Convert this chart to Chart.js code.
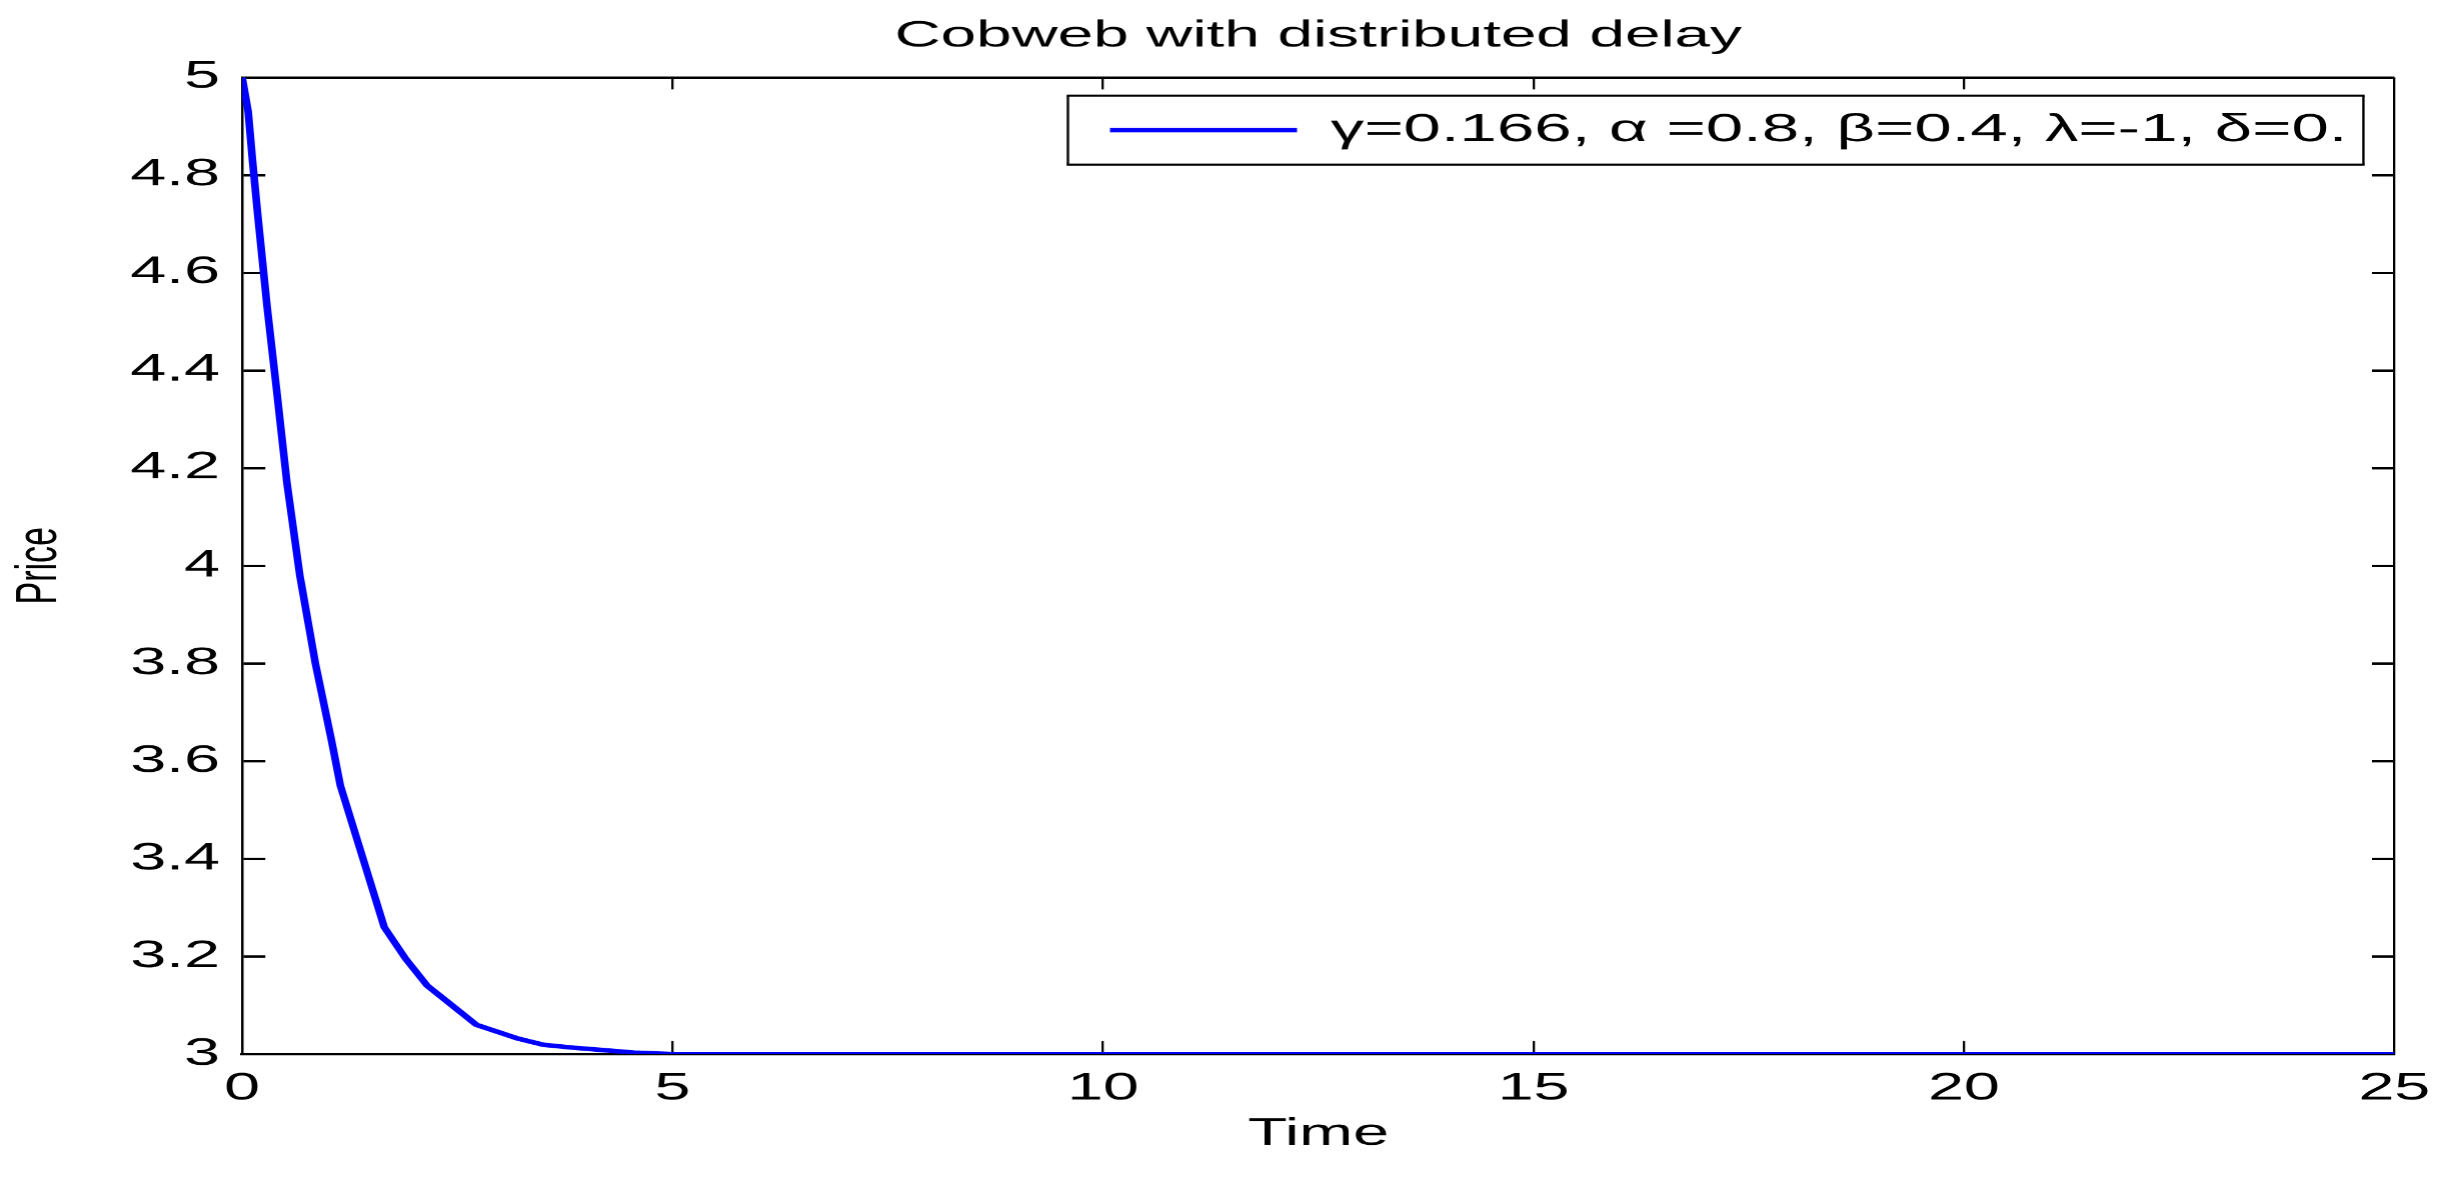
<!DOCTYPE html>
<html><head><meta charset="utf-8">
<script src="https://cdn.jsdelivr.net/npm/chart.js@4.4.1/dist/chart.umd.min.js"></script>
<style>
html,body{margin:0;padding:0;background:#fff;overflow:hidden;width:2450px;height:1183px;}
#wrap{position:absolute;left:0;top:0;width:1441px;height:1183px;transform:scaleX(1.70021);transform-origin:0 0;}
</style></head><body>
<div id="wrap"><canvas id="c"></canvas></div>
<script>
const chartTitle = 'Cobweb with distributed delay';
const xAxisTitle = 'Time';
const yAxisTitle = 'Price';
const seriesLabel = 'γ=0.166, α =0.8, β=0.4, λ=-1, δ=0.';
const timeValues  = [0, 0.07, 0.12, 0.18, 0.29, 0.40, 0.52, 0.67, 0.85, 1.04, 1.14, 1.65, 1.9, 2.15, 2.4, 2.72, 3.2, 3.5, 3.85, 4.2, 4.55, 5, 10, 15, 20, 25];
const priceValues = [5, 4.93, 4.83, 4.72, 4.53, 4.36, 4.17, 3.98, 3.80, 3.64, 3.55, 3.26, 3.195, 3.14, 3.105, 3.06, 3.032, 3.019, 3.013, 3.008, 3.003, 3, 3, 3, 3, 3];
const xTickValues = [0, 5, 10, 15, 20, 25];
const xTickLabels = ['0', '5', '10', '15', '20', '25'];
const yTickValues = [3, 3.2, 3.4, 3.6, 3.8, 4, 4.2, 4.4, 4.6, 4.8, 5];
const yTickLabels = ['3', '3.2', '3.4', '3.6', '3.8', '4', '4.2', '4.4', '4.6', '4.8', '5'];

const FONT = '"Liberation Sans", Arial, Helvetica, sans-serif';
Chart.defaults.color = '#000';
Chart.defaults.font.family = FONT;

function edgeDash(ctx, vals, horizontalLines, tickLen) {
  if (!ctx || !ctx.tick) return [];
  const v = ctx.tick.value;
  if (Math.abs(v - vals[0]) < 1e-9 || Math.abs(v - vals[vals.length - 1]) < 1e-9) return [];
  const a = ctx.chart.chartArea;
  if (!a) return [];
  const L = horizontalLines ? (a.right - a.left) : (a.bottom - a.top);
  return [tickLen, Math.max(L - 2 * tickLen - 1, 1), tickLen + 2, 100000];
}

// legend frame geometry (relative to the legend item), in canvas units
const FRAME_GAP_RIGHT = 18.2, FRAME_PAD_L = 24.7, FRAME_PAD_R = 9.4, FRAME_HALF_H = 34.5;

const legendPlace = {
  id: 'legendPlace',
  afterLayout(chart) {
    const lg = chart.legend;
    if (!lg || !lg.legendHitBoxes || !lg.legendHitBoxes.length) return;
    const pad = lg.options.labels.padding;
    const hb = lg.legendHitBoxes[0];
    const frameRight = chart.chartArea.right - FRAME_GAP_RIGHT;
    const itemLeft = frameRight - FRAME_PAD_R - hb.width;
    lg.left = itemLeft - pad;
    lg.top = chart.chartArea.top;
    lg.bottom = chart.chartArea.bottom;
  },
  afterDraw(chart) {
    const lg = chart.legend;
    if (!lg || !lg.legendHitBoxes || !lg.legendHitBoxes.length) return;
    const pad = lg.options.labels.padding;
    const hb = lg.legendHitBoxes[0];
    const ctx = chart.ctx;
    const itemLeft = lg.left + pad;
    const cy = lg.top + pad + hb.height / 2;
    const l = itemLeft - FRAME_PAD_L, r = itemLeft + hb.width + FRAME_PAD_R;
    const t = cy - FRAME_HALF_H, b = cy + FRAME_HALF_H;
    ctx.save();
    ctx.strokeStyle = '#000';
    ctx.lineWidth = 2.2;
    ctx.beginPath(); ctx.moveTo(l - 0.7, t); ctx.lineTo(r + 0.7, t); ctx.moveTo(l - 0.7, b); ctx.lineTo(r + 0.7, b); ctx.stroke();
    ctx.lineWidth = 1.4;
    ctx.beginPath(); ctx.moveTo(l, t); ctx.lineTo(l, b); ctx.moveTo(r, t); ctx.lineTo(r, b); ctx.stroke();
    ctx.restore();
  }
};

new Chart(document.getElementById('c'), {
  type: 'line',
  data: {
    datasets: [{
      label: seriesLabel,
      data: timeValues.map((t, i) => ({x: t, y: priceValues[i]})),
      borderColor: '#0000FF',
      backgroundColor: '#0000FF',
      borderWidth: 4.5,
      pointRadius: 0,
      tension: 0,
      fill: false
    }]
  },
  options: {
    responsive: true,
    maintainAspectRatio: false,
    devicePixelRatio: 1.7,
    animation: false,
    layout: {padding: 0},
    scales: {
      x: {
        type: 'linear', min: 0, max: 25,
        afterBuildTicks: s => { s.ticks = xTickValues.map(v => ({value: v})); },
        afterFit: s => { s.height = 129; },
        ticks: {autoSkip: false, maxRotation: 0, padding: 12, color: '#000',
          font: {family: FONT, size: 38},
          callback: (v, i) => xTickLabels[i]},
        grid: {drawTicks: false, color: '#000', lineWidth: 1.35},
        border: {display: true, color: '#000', width: 2.3,
          dash: ctx => edgeDash(ctx, xTickValues, false, 12)},
        title: {display: true, text: xAxisTitle, color: '#000',
          font: {family: FONT, size: 38}, padding: {top: 0, bottom: 26}}
      },
      y: {
        type: 'linear', min: 3, max: 5,
        afterBuildTicks: s => { s.ticks = yTickValues.map(v => ({value: v})); },
        afterFit: s => { s.width = 142.4; },
        ticks: {autoSkip: false, padding: 13, color: '#000',
          font: {family: FONT, size: 38},
          callback: (v, i) => yTickLabels[i]},
        grid: {drawTicks: false, color: '#000', lineWidth: 2.3},
        border: {display: true, color: '#000', width: 1.35,
          dash: ctx => edgeDash(ctx, yTickValues, true, 12.9)},
        title: {display: true, text: yAxisTitle, color: '#000',
          font: {family: FONT, size: 34}, padding: {top: 3, bottom: 0}}
      }
    },
    plugins: {
      title: {display: true, text: chartTitle, color: '#000', fullSize: false,
        font: {family: FONT, size: 37.5, weight: 'normal'},
        padding: {top: 13.5, bottom: 18.9}},
      legend: {display: true, position: 'chartArea', align: 'start',
        labels: {usePointStyle: true, pointStyle: 'line', pointStyleWidth: 110,
          color: '#000', padding: 33, font: {family: FONT, size: 39.5}}},
      tooltip: {enabled: false}
    }
  },
  plugins: [legendPlace]
});
</script>
</body></html>
